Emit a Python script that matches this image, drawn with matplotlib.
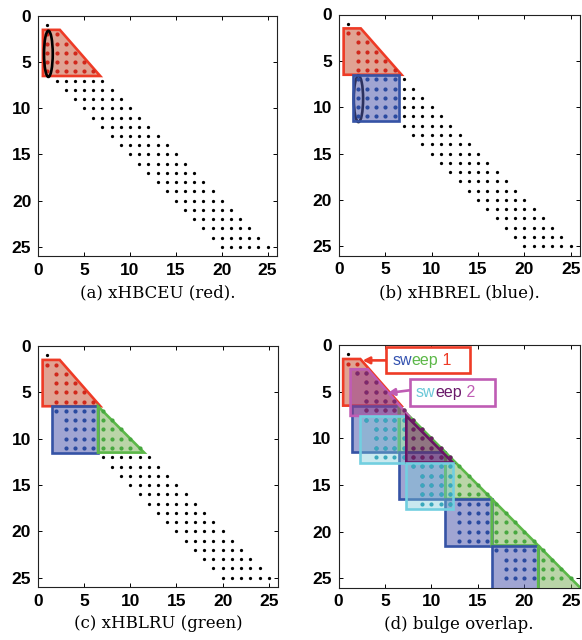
import matplotlib
matplotlib.use('Agg')
import matplotlib.pyplot as plt
from matplotlib.patches import Polygon, Rectangle, Ellipse
from matplotlib.font_manager import FontProperties

# ---------------- data ----------------
N = 25            # matrix order
BAND = 5          # lower bandwidth
ticks = [0, 5, 10, 15, 20, 25]
tick_labels = ['0', '5', '10', '15', '20', '25']
captions = ['(a) xHBCEU (red).', '(b) xHBREL (blue).',
            '(c) xHBLRU (green)', '(d) bulge overlap.']

# kernels: (kind, rows, cols, colour key)
red_trap = ('trap', (2, 6), (1, 6), 'red')
blue_blocks = [('rect', (7, 11), (2, 6), 'blue'),
               ('rect', (12, 16), (7, 11), 'blue'),
               ('rect', (17, 21), (12, 16), 'blue'),
               ('rect', (22, 26), (17, 21), 'blue')]
green_tris = [('tri', (7, 11), (7, 11), 'green'),
              ('tri', (12, 16), (12, 16), 'green'),
              ('tri', (17, 21), (17, 21), 'green'),
              ('tri', (22, 26), (22, 26), 'green')]
mag_trap = ('trap', (3, 7), (2, 7), 'magenta')
cyan_blocks = [('rect', (8, 12), (3, 7), 'cyan'),
               ('rect', (13, 17), (8, 12), 'cyan')]
purple_tris = [('tri', (8, 12), (8, 12), 'purple')]

# ---------------- style ----------------
EDGE = {'red': '#ee3b26', 'blue': '#3553a5', 'green': '#5cb848',
        'magenta': '#bf5cb4', 'cyan': '#72cfe0', 'purple': '#6a1464'}
FILL = {'red': ('#c8583a', 0.55), 'blue': ('#525bad', 0.55),
        'green': ('#77ad52', 0.50), 'magenta': ('#963c8c', 0.55),
        'cyan': ('#78c8d7', 0.40), 'purple': ('#6e2864', 0.55)}
DOT = {'red': '#d0281c', 'blue': '#2a4aa0', 'green': '#48a840',
       'magenta': '#7a2a6e', 'cyan': '#3aa8bc', 'purple': '#6a2060'}

plt.rcParams['font.family'] = ['Liberation Sans', 'DejaVu Sans']
TICKFONT = FontProperties(family='Liberation Sans', weight='bold', size=12.5)

W, H = 582, 640
fig = plt.figure(figsize=(W / 100, H / 100), dpi=100)
boxes = [(38.3, 16, 276.7, 256), (339, 14.5, 580, 255.5),
         (38, 346, 278, 587), (338.5, 345, 580, 587.5)]
axes = []
for (l, t, r, b) in boxes:
    ax = fig.add_axes([l / W, (H - b) / H, (r - l) / W, (b - t) / H])
    axes.append(ax)


def band():
    return {(r, c) for r in range(1, N + 1) for c in range(1, N + 1)
            if 0 <= r - c <= BAND}


def region(shape):
    kind, (r0, r1), (c0, c1), _ = shape
    cells = set()
    for r in range(r0, min(r1, N) + 1):
        for c in range(c0, c1 + 1):
            if kind == 'rect' or c <= r:
                cells.add((r, c))
    return cells


def process(nz, shape, done):
    kind, (r0, r1), (c0, c1), _ = shape
    if kind == 'rect':
        nz |= region(shape)
    if done and kind in ('rect', 'trap'):
        for r in range(r0 + 1, r1 + 1):
            nz.discard((r, c0))
    return nz


def verts(shape, off=(0.0, 0.0)):
    kind, (r0, r1), (c0, c1), _ = shape
    if kind == 'rect':
        v = [(c0 - .5, r0 - .5), (c1 + .5, r0 - .5), (c1 + .5, r1 + .5), (c0 - .5, r1 + .5)]
    elif kind == 'tri':
        v = [(c0 - .5, r0 - .5), (c1 + .5, r1 + .5), (c0 - .5, r1 + .5)]
    else:
        v = [(c0 - .5, r0 - .5), (r0 + .35, r0 - .5), (r1 + .75, r1 + .5), (c0 - .5, r1 + .5)]
    return [(x + off[0], y + off[1]) for x, y in v]


panels = [
    [(red_trap, False)],
    [(red_trap, True), (blue_blocks[0], False)],
    [(red_trap, True), (blue_blocks[0], True), (green_tris[0], False)],
    [(red_trap, True)] + [(s, True) for pair in zip(blue_blocks, green_tris) for s in pair]
    + [(mag_trap, True), (cyan_blocks[0], True), (purple_tris[0], True), (cyan_blocks[1], True)],
]
sweep2 = {mag_trap, cyan_blocks[0], cyan_blocks[1], purple_tris[0]}

for k, (ax, shapes) in enumerate(zip(axes, panels)):
    nz = band()
    for s, done in shapes:
        nz = process(nz, s, done)
    covered = set()
    for s, _ in shapes:
        covered |= region(s)
    free = sorted(nz - covered)
    ax.scatter([c for r, c in free], [r for r, c in free], s=5.5, c='black',
               linewidths=0, zorder=3)
    z = 4
    for s, done in shapes:
        key = s[3]
        off = (-0.2, 0.1) if (k == 3 and s in sweep2) else (0, 0)
        fc, a = FILL[key]
        ax.add_patch(Polygon(verts(s, off), closed=True, facecolor=fc, alpha=a,
                             edgecolor='none', zorder=z))
        ax.add_patch(Polygon(verts(s, off), closed=True, facecolor='none',
                             edgecolor=EDGE[key], lw=1.9, zorder=z + 0.5,
                             joinstyle='miter'))
        pts = sorted(nz & region(s))
        ax.scatter([c for r, c in pts], [r for r, c in pts], s=9, c=DOT[key],
                   linewidths=0, zorder=z + 1)
        z += 2
        if k == 1 and s is red_trap:
            ax.add_patch(Ellipse((2.1, 9.1), 1.0, 5.0, fill=False, ec='black',
                                 lw=1.9, zorder=z))
            z += 1
    if k == 0:
        ax.add_patch(Ellipse((1.1, 4.1), 0.95, 5.0, fill=False, ec='black',
                             lw=1.9, zorder=z))

    ax.set_xlim(0, N + 1)
    ax.set_ylim(N + 1, 0)
    ax.set_xticks(ticks)
    ax.set_yticks(ticks)
    ax.set_xticklabels(tick_labels, fontproperties=TICKFONT)
    ax.set_yticklabels(tick_labels, fontproperties=TICKFONT)
    ax.tick_params(direction='in', length=3, width=0.7, top=True, right=True,
                   pad=5)
    for sp in ax.spines.values():
        sp.set_linewidth(0.8)
        sp.set_color('#222222')

    l, t, r, b = boxes[k]
    fig.text(((l + r) / 2) / W, (H - (b + 37)) / H, captions[k],
             family='DejaVu Serif', fontsize=12, ha='center', va='center')

# ---------------- sweep labels in (d) ----------------
axd = axes[3]


def rainbow(ax, x, y, parts):
    t = ax.text(x, y, parts[0][0], color=parts[0][1], fontsize=11.5,
                va='center', ha='left', zorder=31)
    for s, col in parts[1:]:
        t = ax.annotate(s, xy=(1, 0), xycoords=t, va='bottom', ha='left',
                        color=col, fontsize=11.5, zorder=31)


axd.add_patch(Rectangle((5.1, 0.25), 9.1, 2.75, facecolor='white',
                        edgecolor=EDGE['red'], lw=1.9, zorder=30, clip_on=False))
rainbow(axd, 5.8, 1.65, [('sw', '#3553b0'), ('eep', '#5cb848'), (' 1', EDGE['red'])])
axd.annotate('', xy=(2.6, 1.65), xytext=(5.1, 1.65),
             arrowprops=dict(arrowstyle='-|>', color=EDGE['red'], lw=1.9,
                             mutation_scale=10, shrinkA=0, shrinkB=0), zorder=29)

axd.add_patch(Rectangle((7.7, 3.6), 9.15, 2.95, facecolor='white',
                        edgecolor=EDGE['magenta'], lw=1.9, zorder=30, clip_on=False))
rainbow(axd, 8.3, 5.1, [('sw', '#6cc8d8'), ('eep', '#6a1a6a'), (' 2', EDGE['magenta'])])
axd.annotate('', xy=(5.3, 5.15), xytext=(7.7, 4.85),
             arrowprops=dict(arrowstyle='-|>', color=EDGE['magenta'], lw=1.9,
                             mutation_scale=10, shrinkA=0, shrinkB=0), zorder=29)

fig.savefig('out.png', dpi=100)
